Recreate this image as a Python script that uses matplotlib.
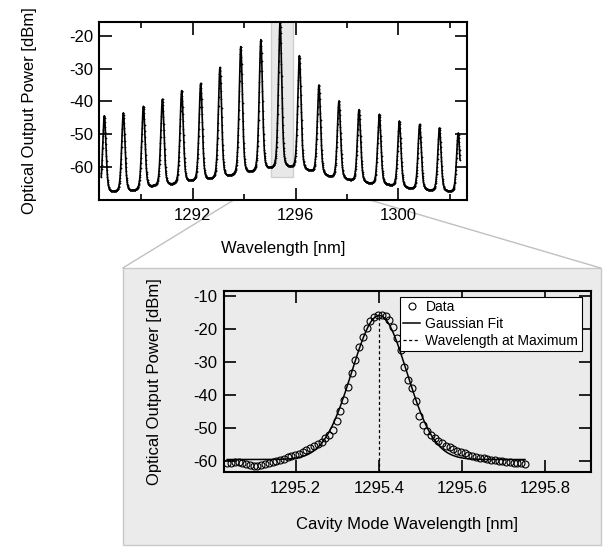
"""Mode spectrum of the laser (top) with a zoom on the strongest cavity mode (bottom)."""

import numpy as np
import matplotlib
matplotlib.use("Agg")
import matplotlib.pyplot as plt  # noqa: E402
from matplotlib.patches import Rectangle, ConnectionPatch  # noqa: E402
from matplotlib.ticker import FormatStrFormatter  # noqa: E402

plt.rcParams["font.family"] = ["Liberation Sans", "DejaVu Sans"]
plt.rcParams["font.size"] = 12
plt.rcParams["axes.unicode_minus"] = False

# --- full spectrum: cavity modes ---
MODE_NM = [1288.56, 1289.30, 1290.08, 1290.82, 1291.57, 1292.31, 1293.06,
           1293.87, 1294.65, 1295.40, 1296.15, 1296.91, 1297.69, 1298.47,
           1299.26, 1300.04, 1300.83, 1301.60, 1302.33]
MODE_DBM = [-44.5, -43.7, -41.8, -39.6, -37.0, -34.8, -29.9, -23.5, -21.5,
            -16.0, -26.3, -35.3, -40.1, -42.7, -44.2, -46.2, -47.2, -48.3,
            -49.8]
# background level at the ends and between neighbouring modes
VALLEY_DBM = [-68.5, -68.2, -68.0, -66.6, -66.1, -65.1, -64.6, -63.6, -62.6,
              -61.5, -61.0, -62.0, -63.6, -64.6, -65.6, -66.1, -67.1, -67.7,
              -68.0, -68.2]
SPAN_NM = (1288.44, 1302.40)
STEP_NM = 0.009

# --- zoomed mode: measured points + gaussian fit ---
ZOOM_NM = (1295.035, 1295.752)
ZOOM_DBM = [-60.8, -60.6, -60.5, -60.5, -60.7, -61.0, -61.3, -61.5, -61.5,
            -61.4, -61.1, -60.7, -60.3, -60.0, -59.7, -59.3, -58.9, -58.6,
            -58.3, -57.8, -57.3, -56.8, -56.1, -55.6, -55.0, -54.3, -53.2,
            -52.3, -50.6, -47.8, -44.8, -41.6, -37.6, -33.5, -29.5, -25.6,
            -22.3, -19.6, -17.5, -16.3, -15.9, -15.7, -16.2, -17.4, -19.4,
            -22.6, -26.5, -31.5, -35.6, -37.8, -42.0, -46.5, -49.0, -51.0,
            -52.2, -53.2, -54.0, -54.7, -55.4, -55.9, -56.4, -56.9, -57.3,
            -57.7, -58.1, -58.4, -58.7, -59.0, -59.2, -59.4, -59.6, -59.8,
            -60.0, -60.2, -60.4, -60.5, -60.6, -60.7, -60.8, -60.9]
FIT_Y0, FIT_AMP, FIT_X0, FIT_W = -59.6, 43.7, 1295.401, 0.094

TOP_XLIM = (1288.34, 1302.66)
TOP_YLIM = (-70.2, -15.6)
ZOOM_XLIM = (1295.027, 1295.911)
ZOOM_YLIM = (-63.3, -8.4)


def mode_shape(d):
    # line shape of one mode in dB space (gaussian core + lorentzian skirt)
    return 0.6 * np.exp(-(d / 0.095) ** 2) + 0.4 / (1 + (d / 0.07) ** 2)


def spectrum():
    lam = np.arange(SPAN_NM[0], SPAN_NM[1], STEP_NM)
    modes = np.array(MODE_NM)
    vx = np.concatenate([[SPAN_NM[0]], (modes[1:] + modes[:-1]) / 2,
                         [SPAN_NM[1]]])
    floor = np.interp(lam, vx, VALLEY_DBM)
    p = floor.copy()
    for c, h in zip(MODE_NM, MODE_DBM):
        p += (h - np.interp(c, vx, VALLEY_DBM)) * mode_shape(lam - c)
    return lam, p


def style(ax):
    for s in ax.spines.values():
        s.set_linewidth(1.5)
    ax.tick_params(which="both", direction="in", top=True, right=True,
                   width=1.2)


def main():
    fig = plt.figure(figsize=(6.08, 5.48), dpi=100)

    # gray panel behind the zoom
    fig.add_artist(Rectangle((0.2018, 0.0055), 0.7862, 0.5054,
                             transform=fig.transFigure, fc="#ebebeb",
                             ec="#c8c8c8", lw=1, zorder=-2))

    # top: full spectrum
    ax1 = fig.add_axes([0.1623, 0.635, 0.6053, 0.3254])
    lam, p = spectrum()
    ax1.add_patch(Rectangle((ZOOM_XLIM[0], ZOOM_YLIM[0]),
                            ZOOM_XLIM[1] - ZOOM_XLIM[0],
                            ZOOM_YLIM[1] - ZOOM_YLIM[0],
                            fc="#e8e8e8", ec="#d0d0d0", lw=1, zorder=0))
    ax1.plot(lam, p, color="k", lw=1.2, marker="+", ms=2.0, mew=0.5,
             zorder=2)
    ax1.set_xlim(*TOP_XLIM)
    ax1.set_ylim(*TOP_YLIM)
    ax1.set_xticks([1292, 1296, 1300])
    ax1.set_xticks([1290, 1294, 1298, 1302], minor=True)
    ax1.set_yticks([-60, -50, -40, -30, -20])
    ax1.xaxis.set_major_formatter(FormatStrFormatter("%d"))
    ax1.yaxis.set_major_formatter(FormatStrFormatter("%d"))
    style(ax1)
    ax1.tick_params(which="major", length=9)
    ax1.tick_params(which="minor", length=4.5)
    ax1.tick_params(axis="x", pad=6)
    ax1.tick_params(axis="y", pad=4)
    ax1.set_xlabel("Wavelength [nm]", labelpad=13)
    ax1.set_ylabel("Optical Output Power [dBm]", labelpad=23)

    # bottom: zoom on the strongest mode
    ax2 = fig.add_axes([0.3684, 0.1392, 0.6036, 0.3303])
    ax2.set_facecolor("none")
    zx = np.linspace(ZOOM_NM[0], ZOOM_NM[1], len(ZOOM_DBM))
    fx = np.linspace(ZOOM_NM[0], ZOOM_NM[1], 400)
    fit = FIT_Y0 + FIT_AMP * np.exp(-((fx - FIT_X0) / FIT_W) ** 2)
    ax2.plot(zx, ZOOM_DBM, ls="none", marker="o", ms=5, mfc="none",
             mec="k", mew=0.8, label="Data")
    ax2.plot(fx, fit, color="k", lw=1.1, label="Gaussian Fit")
    ax2.plot([FIT_X0, FIT_X0], [ZOOM_YLIM[0], FIT_Y0 + FIT_AMP], color="k",
             lw=0.9, ls=(0, (2.5, 2)), label="Wavelength at Maximum")
    ax2.set_xlim(*ZOOM_XLIM)
    ax2.set_ylim(*ZOOM_YLIM)
    ax2.set_xticks([1295.2, 1295.4, 1295.6, 1295.8])
    ax2.set_yticks([-60, -50, -40, -30, -20, -10])
    ax2.xaxis.set_major_formatter(FormatStrFormatter("%.1f"))
    ax2.yaxis.set_major_formatter(FormatStrFormatter("%d"))
    style(ax2)
    ax2.tick_params(which="major", length=8.5)
    ax2.tick_params(axis="x", pad=7)
    ax2.tick_params(axis="y", pad=5)
    ax2.set_xlabel("Cavity Mode Wavelength [nm]", labelpad=15)
    ax2.set_ylabel("Optical Output Power [dBm]", labelpad=22)
    leg = ax2.legend(loc="upper right", bbox_to_anchor=(0.975, 0.967),
                     borderaxespad=0, fontsize=10, fancybox=False,
                     framealpha=1, edgecolor="k", numpoints=1,
                     labelspacing=0.2, borderpad=0.25, handlelength=1.2,
                     handletextpad=0.4)
    leg.get_frame().set_linewidth(0.8)

    # connector lines from the shaded span to the zoom panel
    for xa, xb in ((ZOOM_XLIM[0], 0.2018), (ZOOM_XLIM[1], 0.988)):
        fig.add_artist(ConnectionPatch(
            xyA=(xa, ZOOM_YLIM[0]), coordsA=ax1.transData,
            xyB=(xb, 0.5109), coordsB=fig.transFigure,
            color="#c0c0c0", lw=1, zorder=-1))

    fig.savefig("out.png", dpi=100)


if __name__ == "__main__":
    main()
